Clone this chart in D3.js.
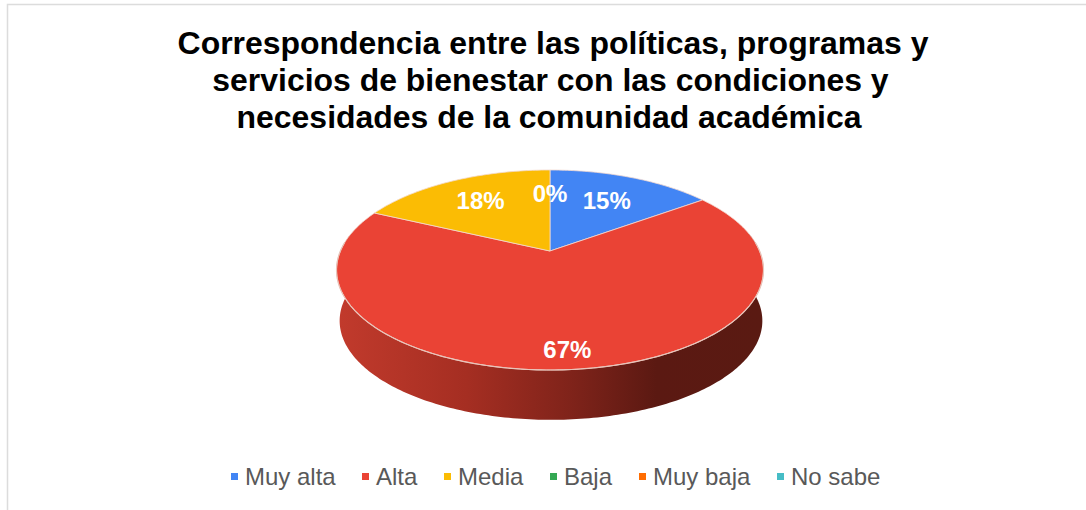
<!DOCTYPE html>
<html>
<head>
<meta charset="utf-8">
<script src="https://cdn.jsdelivr.net/npm/d3@7"></script>
<style>
  html, body { margin: 0; padding: 0; background: #fff; }
  svg { display: block; }
  text { font-family: "Liberation Sans", Arial, sans-serif; }
</style>
</head>
<body>
<script>
const categories = ['Muy alta', 'Alta', 'Media', 'Baja', 'Muy baja', 'No sabe'];
const values     = [15, 67, 18, 0, 0, 0];
const colors     = ['#4285f4', '#ea4335', '#fbbc04', '#34a853', '#ff6d01', '#46bdc6'];
const titleLines = [
  'Correspondencia entre las políticas, programas y',
  'servicios de bienestar con las condiciones y',
  'necesidades de la comunidad académica'
];

const width = 1086, height = 510;

const svg = d3.select('body').append('svg')
    .attr('width', width)
    .attr('height', height);

// chart frame, only top and left are in the picture
svg.append('path')
    .attr('d', 'M 7.5 510 V 4.5 H 1086')
    .attr('fill', 'none')
    .attr('stroke', '#dcdcdc')
    .attr('stroke-width', 1.5);

// the lines are not centred on quite the same x in the picture
const titleX = [553, 550.5, 549];
svg.selectAll('text.title')
  .data(titleLines)
  .enter().append('text')
    .attr('class', 'title')
    .attr('x', (d, i) => titleX[i])
    .attr('y', (d, i) => 53.5 + i * 37)
    .attr('text-anchor', 'middle')
    .attr('font-size', 31.95)
    .attr('font-weight', 'bold')
    .attr('fill', '#000')
    .text(d => d);

// perspective disc: angle 0 is the back of the pie, clockwise
const cx = 550, cy = 251;
const radX = 209.6, radY = 96.4, persp = 0.19;
const depth = 51;

function project(a, r = 1, drop = 0, shrink = 1, shift = 0) {
  const s = 1 + persp * r * Math.cos(a);
  return [
    cx + shift + shrink * radX * r * Math.sin(a) / s,
    cy + drop - shrink * radY * r * Math.cos(a) / s
  ];
}

const pie = d3.pie().value(d => d).sort(null);
const arcs = pie(values);
const line = d3.line();

function arcPoints(a0, a1, drop = 0, shrink = 1, shift = 0) {
  const n = Math.max(2, Math.ceil(Math.abs(a1 - a0) * 60));
  return d3.range(n + 1).map(i => project(a0 + (a1 - a0) * i / n, 1, drop, shrink, shift));
}

// side wall, only where a slice faces the viewer
const wallStart = Math.PI / 2 - 0.19, wallEnd = 3 * Math.PI / 2 + 0.19;

const defs = svg.append('defs');
const wallFill = defs.append('linearGradient')
    .attr('id', 'wall')
    .attr('gradientUnits', 'userSpaceOnUse')
    .attr('x1', 340).attr('x2', 762)
    .attr('y1', 0).attr('y2', 0);
wallFill.selectAll('stop')
  .data([[0, '#c13a2c'], [0.3, '#a52e22'], [0.55, '#7f231a'], [0.75, '#5b1912'], [1, '#5a1a12']])
  .enter().append('stop')
    .attr('offset', d => d[0])
    .attr('stop-color', d => d[1]);

arcs.forEach(d => {
  const a0 = Math.max(d.startAngle, wallStart);
  const a1 = Math.min(d.endAngle, wallEnd);
  if (a1 <= a0) return;
  const top = arcPoints(a0, a1);
  const bottom = arcPoints(a1, a0, depth, 0.99, 1);
  svg.append('path')
      .attr('d', line(top.concat(bottom)) + 'Z')
      .attr('fill', 'url(#wall)');
});

// top faces
svg.selectAll('path.slice')
  .data(arcs.filter(d => d.value > 0))
  .enter().append('path')
    .attr('class', 'slice')
    .attr('d', d => line([[cx, cy]].concat(arcPoints(d.startAngle, d.endAngle))) + 'Z')
    .attr('fill', (d, i) => colors[d.index])
    .attr('stroke', '#f3d9d0')
    .attr('stroke-width', 0.8)
    .attr('stroke-linejoin', 'round');

// pale highlight where the top face meets the wall
svg.append('path')
    .attr('d', line(arcPoints(wallStart + 0.1, wallEnd - 0.1)))
    .attr('fill', 'none')
    .attr('stroke', '#e8c4ba')
    .attr('stroke-width', 1.2);

// percent labels, placed along each slice's mid angle
const labelRadius = [0.69, 1.0, 0.73, 0.72, 0.72, 0.72];
const labelTweak = [[-2, 3], [-7, -19], [4, 3], [0, 4], [0, 0], [0, 0]];
const total = d3.sum(values);
svg.selectAll('text.pct')
  .data(arcs.slice(0, 3).concat([{index: 3, value: 0, startAngle: 2 * Math.PI, endAngle: 2 * Math.PI}]))
  .enter().append('text')
    .attr('class', 'pct')
    .attr('text-anchor', 'middle')
    .attr('font-size', 24)
    .attr('font-weight', 'bold')
    .attr('fill', '#fff')
    .attr('transform', d => {
      const mid = (d.startAngle + d.endAngle) / 2;
      const p = project(mid, labelRadius[d.index]);
      return 'translate(' + (p[0] + labelTweak[d.index][0]) + ',' + (p[1] + 8 + labelTweak[d.index][1]) + ')';
    })
    .text(d => Math.round(d.value / total * 100) + '%');

// legend
const legendX = [231, 362, 444, 550, 639, 777];
const legend = svg.selectAll('g.legend')
  .data(categories)
  .enter().append('g')
    .attr('class', 'legend')
    .attr('transform', (d, i) => 'translate(' + legendX[i] + ',477)');
legend.append('rect')
    .attr('x', 0).attr('y', -4)
    .attr('width', 7).attr('height', 7)
    .attr('fill', (d, i) => colors[i]);
legend.append('text')
    .attr('x', 14)
    .attr('y', 8)
    .attr('font-size', 24)
    .attr('fill', '#595959')
    .text(d => d);
</script>
</body>
</html>
